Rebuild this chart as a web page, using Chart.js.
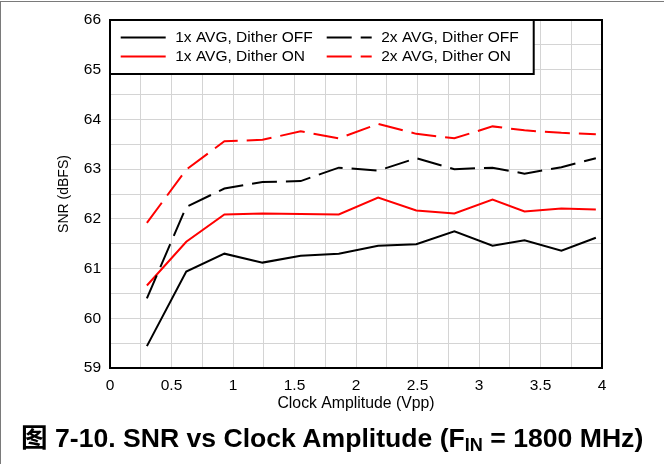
<!DOCTYPE html>
<html>
<head>
<meta charset="utf-8">
<script src="https://cdn.jsdelivr.net/npm/chart.js@4.4.0/dist/chart.umd.min.js"></script>
<style>
html,body{margin:0;padding:0;background:#fff;}
#wrap{position:relative;width:664px;height:464px;overflow:hidden;background:#fff;}
#frameTop{position:absolute;left:0;top:1px;width:664px;height:1px;background:#7a7a7a;}
#frameLeft{position:absolute;left:0;top:1px;width:1px;height:463px;background:#7a7a7a;}
#c{position:absolute;left:0;top:0;}
#caption{position:absolute;left:21px;top:419px;font-family:"Liberation Sans",Arial,sans-serif;font-weight:bold;font-size:26.6px;line-height:34px;white-space:nowrap;color:#000;}
#caption .cjk{font-family:"Noto Sans CJK SC",sans-serif;font-weight:bold;}
#caption sub{font-size:0.68em;vertical-align:-0.22em;line-height:0;}
</style>
</head>
<body>
<div id="wrap">
  <canvas id="c" width="664" height="420"></canvas>
  <div id="frameTop"></div>
  <div id="frameLeft"></div>
  <div id="caption"><span class="cjk">图</span> 7-10. SNR vs Clock Amplitude (F<sub>IN</sub> = 1800 MHz)</div>
</div>
<script>
// ---- data ----
const clockAmplitude = [0.3, 0.62, 0.93, 1.24, 1.55, 1.86, 2.18, 2.49, 2.8, 3.11, 3.37, 3.67, 3.95];
const snr1xDitherOff = [59.44, 60.94, 61.30, 61.12, 61.26, 61.30, 61.46, 61.49, 61.75, 61.46, 61.57, 61.36, 61.62];
const snr2xDitherOff = [60.40, 62.24, 62.61, 62.74, 62.76, 63.03, 62.97, 63.22, 63.00, 63.03, 62.91, 63.04, 63.22];
const snr1xDitherOn  = [60.66, 61.54, 62.09, 62.11, 62.10, 62.09, 62.43, 62.17, 62.11, 62.39, 62.15, 62.21, 62.19];
const snr2xDitherOn  = [61.92, 62.99, 63.56, 63.59, 63.76, 63.62, 63.91, 63.71, 63.62, 63.86, 63.78, 63.73, 63.70];
const seriesLabels = ['1x AVG, Dither OFF', '2x AVG, Dither OFF', '1x AVG, Dither ON', '2x AVG, Dither ON'];
const xTickLabels = [0, 0.5, 1, 1.5, 2, 2.5, 3, 3.5, 4];
const yTickLabels = [59, 60, 61, 62, 63, 64, 65, 66];

const FONT = '"Liberation Sans", Arial, sans-serif';
const DASH = [25, 9];

function pts(ys){ return clockAmplitude.map((x,i)=>({x:x, y:ys[i]})); }

const datasets = [
  {label: seriesLabels[0], data: pts(snr1xDitherOff), borderColor:'#000000', borderDash:[]},
  {label: seriesLabels[1], data: pts(snr2xDitherOff), borderColor:'#000000', borderDash:DASH},
  {label: seriesLabels[2], data: pts(snr1xDitherOn),  borderColor:'#ff0000', borderDash:[]},
  {label: seriesLabels[3], data: pts(snr2xDitherOn),  borderColor:'#ff0000', borderDash:DASH}
].map(d => Object.assign(d, {borderWidth:2, pointRadius:0, tension:0, fill:false}));

const framePlugin = {
  id: 'frameLegend',
  afterDatasetsDraw(chart){
    const {ctx, chartArea:a} = chart;
    ctx.save();
    ctx.strokeStyle = '#000'; ctx.lineWidth = 2;
    ctx.strokeRect(a.left, a.top, a.right - a.left, a.bottom - a.top);

    // legend box
    ctx.font = '15.5px ' + FONT;
    const colX = [a.left + 10.7, a.left + 216.7];
    const rowY = [a.top + 17.5, a.top + 36.5];
    const sampleLen = 45, textGap = 9.5;
    let right = 0;
    chart.data.datasets.forEach((d,i)=>{
      const col = i % 2;
      const w = ctx.measureText(d.label).width;
      right = Math.max(right, colX[col] + sampleLen + textGap + w);
    });
    const boxL = a.left, boxT = a.top, boxR = right + 15, boxB = a.top + 54;
    ctx.fillStyle = '#fff';
    ctx.fillRect(boxL, boxT, boxR - boxL, boxB - boxT);
    ctx.strokeRect(boxL, boxT, boxR - boxL, boxB - boxT);

    chart.data.datasets.forEach((d,i)=>{
      const col = i % 2, row = Math.floor(i / 2);
      const x = colX[col], y = rowY[row];
      ctx.beginPath();
      ctx.setLineDash(d.borderDash || []);
      ctx.strokeStyle = d.borderColor; ctx.lineWidth = 2;
      ctx.moveTo(x, y); ctx.lineTo(x + sampleLen, y);
      ctx.stroke();
      ctx.setLineDash([]);
      ctx.fillStyle = '#000';
      ctx.textBaseline = 'middle'; ctx.textAlign = 'left';
      ctx.fillText(d.label, x + sampleLen + textGap, y + 0.5);
    });
    ctx.restore();
  }
};

new Chart(document.getElementById('c'), {
  type: 'line',
  data: {datasets: datasets},
  plugins: [framePlugin],
  options: {
    responsive: false,
    animation: false,
    events: [],
    layout: {padding: {top: 20, right: 62, left: 0, bottom: 0}},
    plugins: {legend: {display:false}, tooltip: {enabled:false}, title:{display:false}},
    scales: {
      x: {
        type: 'linear', min: 0, max: 4,
        afterFit: s => { s.height = 52; },
        grid: {color:'#d4d4d4', lineWidth:1, drawTicks:false},
        border: {display:true, color:'#000', width:2},
        ticks: {
          stepSize: 0.25, autoSkip:false, maxRotation:0, minRotation:0, padding: 8,
          color:'#000', font:{family:FONT, size:15.5},
          callback: v => xTickLabels.includes(v) ? String(v) : ''
        },
        title: {display:true, text:'Clock Amplitude (Vpp)', color:'#000',
          font:{family:FONT, size:15.8}, padding:{top:0, bottom:6.5}}
      },
      y: {
        type: 'linear', min: 59, max: 66,
        afterFit: s => { s.width = 110; },
        grid: {color:'#d4d4d4', lineWidth:1, drawTicks:false},
        border: {display:true, color:'#000', width:2},
        ticks: {
          stepSize: 0.5, autoSkip:false, padding: 9,
          color:'#000', font:{family:FONT, size:15.5},
          callback: v => yTickLabels.includes(v) ? String(v) : ''
        },
        title: {display:true, text:'SNR (dBFS)', color:'#000',
          font:{family:FONT, size:14}, padding:{top:56, bottom:0}}
      }
    }
  }
});
</script>
</body>
</html>
